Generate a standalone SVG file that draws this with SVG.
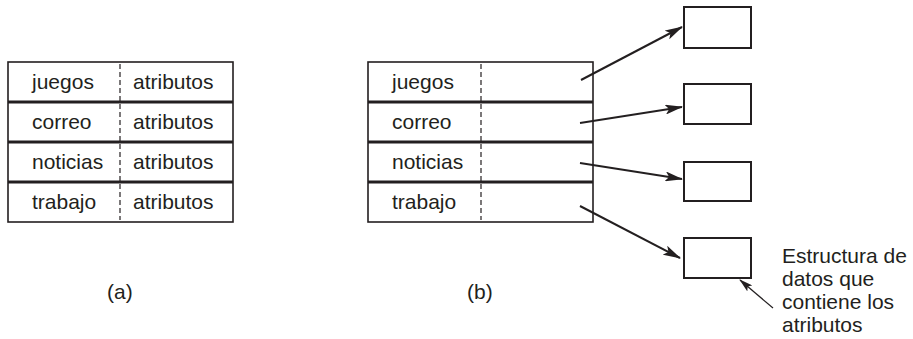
<svg xmlns="http://www.w3.org/2000/svg" width="913" height="339" viewBox="0 0 913 339">
<style>
text{font-family:"Liberation Sans",Arial,sans-serif;font-size:21px;fill:#231f20}
.outer{fill:none;stroke:#231f20;stroke-width:1.6}
.div{stroke:#231f20;stroke-width:2.8}
.dash{stroke:#231f20;stroke-width:1.2;stroke-dasharray:5,3}
.box{fill:none;stroke:#231f20;stroke-width:2}
.conn{stroke:#231f20;stroke-width:2;fill:none}
.thin{stroke:#231f20;stroke-width:1.2;fill:none}
</style>
<defs>
<marker id="ah" markerWidth="18" markerHeight="10" refX="17" refY="5" orient="auto" markerUnits="userSpaceOnUse">
<path d="M0,0 L18,5 L0,10 L4,5 Z" fill="#231f20"/>
</marker>
<marker id="ah2" markerWidth="14" markerHeight="8" refX="13" refY="4" orient="auto" markerUnits="userSpaceOnUse">
<path d="M0,0 L14,4 L0,8 L3,4 Z" fill="#231f20"/>
</marker>
</defs>
<g id="tableA">
<rect class="outer" x="8" y="62" width="225" height="160"/>
<line class="div" x1="8" y1="102" x2="233" y2="102"/>
<line class="div" x1="8" y1="142" x2="233" y2="142"/>
<line class="div" x1="8" y1="182" x2="233" y2="182"/>
<line class="dash" x1="120" y1="64" x2="120" y2="220"/>
<text x="32" y="89">juegos</text><text x="133" y="89">atributos</text>
<text x="32" y="129">correo</text><text x="133" y="129">atributos</text>
<text x="32" y="169">noticias</text><text x="133" y="169">atributos</text>
<text x="32" y="209">trabajo</text><text x="133" y="209">atributos</text>
</g>
<g id="tableB">
<rect class="outer" x="368" y="62" width="225" height="160"/>
<line class="div" x1="368" y1="102" x2="593" y2="102"/>
<line class="div" x1="368" y1="142" x2="593" y2="142"/>
<line class="div" x1="368" y1="182" x2="593" y2="182"/>
<line class="dash" x1="481" y1="64" x2="481" y2="220"/>
<text x="392" y="89">juegos</text>
<text x="392" y="129">correo</text>
<text x="392" y="169">noticias</text>
<text x="392" y="209">trabajo</text>
</g>
<g id="box1"><rect class="box" x="684" y="7" width="67" height="41"/></g>
<g id="box2"><rect class="box" x="684" y="84" width="67" height="40"/></g>
<g id="box3"><rect class="box" x="684" y="162" width="67" height="39"/></g>
<g id="box4"><rect class="box" x="684" y="238" width="67" height="40"/></g>
<g id="labels">
<text x="107" y="299">(a)</text>
<text x="467" y="299">(b)</text>
<text x="782" y="263">Estructura de</text>
<text x="782" y="286">datos que</text>
<text x="782" y="309">contiene los</text>
<text x="782" y="332">atributos</text>
</g>
<g id="connectors">
<line class="conn" x1="581" y1="80" x2="682" y2="27" marker-end="url(#ah)"/>
<line class="conn" x1="580" y1="123" x2="682" y2="107" marker-end="url(#ah)"/>
<line class="conn" x1="580" y1="163" x2="682" y2="179" marker-end="url(#ah)"/>
<line class="conn" x1="580" y1="206" x2="680" y2="258" marker-end="url(#ah)"/>
<line class="thin" x1="773" y1="308" x2="740" y2="280" marker-end="url(#ah2)"/>
</g>
</svg>
